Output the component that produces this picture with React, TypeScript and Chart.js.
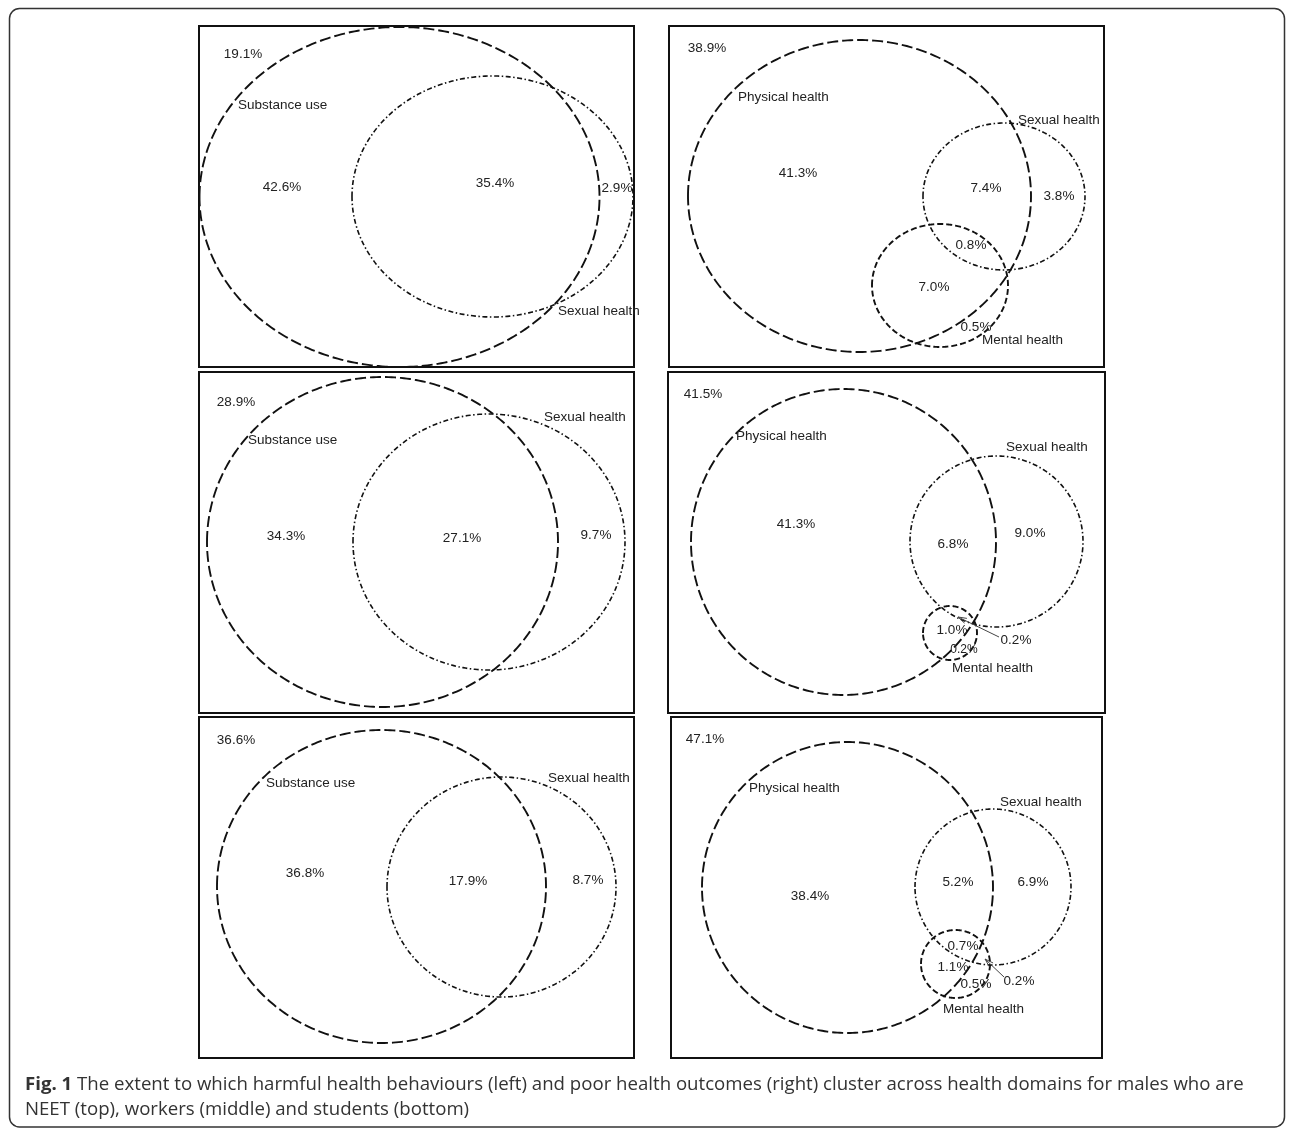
import React, { useEffect, useRef } from "react";
import { Chart, registerables } from "chart.js";

Chart.register(...registerables);

// ---- values ----
const behaviourSets = ["Substance use", "Sexual health"];
const outcomeSets = ["Physical health", "Sexual health", "Mental health"];
const groups = ["NEET", "workers", "students"];

// behaviour: [neither, substance only, both, sexual only]
const neetBehaviourPct = [19.1, 42.6, 35.4, 2.9];
const workerBehaviourPct = [28.9, 34.3, 27.1, 9.7];
const studentBehaviourPct = [36.6, 36.8, 17.9, 8.7];
// outcomes: region percentages as printed
const neetOutcomePct = [38.9, 41.3, 7.4, 3.8, 0.8, 7.0, 0.5];
const workerOutcomePct = [41.5, 41.3, 6.8, 9.0, 1.0, 0.2, 0.2];
const studentOutcomePct = [47.1, 38.4, 5.2, 6.9, 0.7, 1.1, 0.5, 0.2];

const captionBold = "Fig. 1";
const captionLine1 =
  " The extent to which harmful health behaviours (left) and poor health outcomes (right) cluster across health domains for males who are";
const captionLine2 = "NEET (top), workers (middle) and students (bottom)";

// ---- layout (positions / sizes in figure pixels) ----
type Ell = [number, number, number, number];
type Pt = [number, number];
interface PanelLayout {
  box: [number, number, number, number];
  sets: string[];
  ellipses: Ell[];
  nameAt: Pt[];
  values: number[];
  valueAt: Pt[];
  smallValue?: number[];
  arrow?: [number, number, number, number];
}

const layouts: PanelLayout[] = [
  {
    box: [199, 26, 634, 367],
    sets: behaviourSets,
    ellipses: [
      [399.5, 197, 200, 170],
      [492.5, 196.5, 140.5, 120.5],
    ],
    nameAt: [
      [238, 105],
      [558, 311],
    ],
    values: neetBehaviourPct,
    valueAt: [
      [243, 54],
      [282, 187],
      [495, 183],
      [617, 188],
    ],
  },
  {
    box: [669, 26, 1104, 367],
    sets: outcomeSets,
    ellipses: [
      [859.5, 196, 171.5, 156],
      [1004, 196.5, 81, 73.5],
      [940, 285.5, 68, 61.5],
    ],
    nameAt: [
      [738, 97],
      [1018, 120],
      [982, 340],
    ],
    values: neetOutcomePct,
    valueAt: [
      [707, 48],
      [798, 173],
      [986, 188],
      [1059, 196],
      [971, 245],
      [934, 287],
      [976, 327],
    ],
  },
  {
    box: [199, 372, 634, 713],
    sets: behaviourSets,
    ellipses: [
      [382.5, 542, 175.5, 165],
      [489, 542, 136, 128],
    ],
    nameAt: [
      [248, 440],
      [544, 417],
    ],
    values: workerBehaviourPct,
    valueAt: [
      [236, 402],
      [286, 536],
      [462, 538],
      [596, 535],
    ],
  },
  {
    box: [668, 372, 1105, 713],
    sets: outcomeSets,
    ellipses: [
      [843.5, 542, 152.5, 153],
      [996.5, 541.5, 86.5, 85.5],
      [950, 633, 27, 27],
    ],
    nameAt: [
      [736, 436],
      [1006, 447],
      [952, 668],
    ],
    values: workerOutcomePct,
    valueAt: [
      [703, 394],
      [796, 524],
      [953, 544],
      [1030, 533],
      [952, 630],
      [1016, 640],
      [964, 650],
    ],
    smallValue: [6],
    arrow: [999, 637, 958, 617],
  },
  {
    box: [199, 717, 634, 1058],
    sets: behaviourSets,
    ellipses: [
      [381.5, 886.5, 164.5, 156.5],
      [501.5, 887, 114.5, 110],
    ],
    nameAt: [
      [266, 783],
      [548, 778],
    ],
    values: studentBehaviourPct,
    valueAt: [
      [236, 740],
      [305, 873],
      [468, 881],
      [588, 880],
    ],
  },
  {
    box: [671, 717, 1102, 1058],
    sets: outcomeSets,
    ellipses: [
      [847.5, 887.5, 145.5, 145.5],
      [993, 887, 78, 78],
      [955.5, 964, 34.5, 34],
    ],
    nameAt: [
      [749, 788],
      [1000, 802],
      [943, 1009],
    ],
    values: studentOutcomePct,
    valueAt: [
      [705, 739],
      [810, 896],
      [958, 882],
      [1033, 882],
      [963, 946],
      [953, 967],
      [976, 984],
      [1019, 981],
    ],
    arrow: [1004, 977, 985, 959],
  },
];

const W = 1292;
const H = 1128;

const setStyle: Record<string, { dash: number[]; width: number }> = {
  "Substance use": { dash: [11, 4], width: 1.9 },
  "Physical health": { dash: [11, 4], width: 1.9 },
  "Sexual health": { dash: [5, 2.5, 1.5, 2.5], width: 1.6 },
  "Mental health": { dash: [6, 3], width: 1.9 },
};

function outline(e: Ell) {
  const [cx, cy, rx, ry] = e;
  const pts: { x: number; y: number }[] = [];
  const n = 360;
  for (let k = 0; k <= n; k++) {
    const a = (Math.PI * 2 * k) / n + Math.PI;
    pts.push({ x: cx + rx * Math.cos(a), y: cy + ry * Math.sin(a) });
  }
  return pts;
}

const TEXT_FONT = '13.5px "Liberation Sans", Arial, sans-serif';
const TEXT_COLOR = "#222";

const figPlugin = {
  id: "venn-figure",
  beforeDatasetsDraw(chart: any) {
    const ctx: CanvasRenderingContext2D = chart.ctx;
    const sx = chart.scales.x;
    const sy = chart.scales.y;
    const px = (v: number) => sx.getPixelForValue(v);
    const py = (v: number) => sy.getPixelForValue(v);
    ctx.save();
    // outer rounded frame
    ctx.strokeStyle = "#333";
    ctx.lineWidth = 1.5;
    ctx.beginPath();
    const l = px(9.5), t = py(8.5), r = px(1284.5), b = py(1127), rad = 10;
    ctx.moveTo(l + rad, t);
    ctx.lineTo(r - rad, t);
    ctx.arcTo(r, t, r, t + rad, rad);
    ctx.lineTo(r, b - rad);
    ctx.arcTo(r, b, r - rad, b, rad);
    ctx.lineTo(l + rad, b);
    ctx.arcTo(l, b, l, b - rad, rad);
    ctx.lineTo(l, t + rad);
    ctx.arcTo(l, t, l + rad, t, rad);
    ctx.stroke();
    // panel boxes
    ctx.strokeStyle = "#111";
    ctx.lineWidth = 2;
    layouts.forEach((p) => {
      const [x0, y0, x1, y1] = p.box;
      ctx.strokeRect(px(x0), py(y0), px(x1) - px(x0), py(y1) - py(y0));
    });
    ctx.restore();
  },
  afterDatasetsDraw(chart: any) {
    const ctx: CanvasRenderingContext2D = chart.ctx;
    const sx = chart.scales.x;
    const sy = chart.scales.y;
    const px = (v: number) => sx.getPixelForValue(v);
    const py = (v: number) => sy.getPixelForValue(v);
    ctx.save();
    ctx.fillStyle = TEXT_COLOR;
    ctx.textBaseline = "middle";
    layouts.forEach((p) => {
      ctx.font = TEXT_FONT;
      ctx.textAlign = "left";
      p.sets.forEach((name, i) => {
        ctx.fillText(name, px(p.nameAt[i][0]), py(p.nameAt[i][1]));
      });
      ctx.textAlign = "center";
      p.values.forEach((v, i) => {
        const small = p.smallValue && p.smallValue.includes(i);
        ctx.font = small ? '12px "Liberation Sans", Arial, sans-serif' : TEXT_FONT;
        ctx.fillText(v.toFixed(1) + "%", px(p.valueAt[i][0]), py(p.valueAt[i][1]));
      });
      if (p.arrow) {
        const [x0, y0, x1, y1] = p.arrow;
        const ax0 = px(x0), ay0 = py(y0), ax1 = px(x1), ay1 = py(y1);
        ctx.strokeStyle = "#444";
        ctx.lineWidth = 1;
        ctx.setLineDash([]);
        ctx.beginPath();
        ctx.moveTo(ax0, ay0);
        ctx.lineTo(ax1, ay1);
        const ang = Math.atan2(ay1 - ay0, ax1 - ax0);
        const hl = 9;
        ctx.moveTo(ax1 - hl * Math.cos(ang - 0.3), ay1 - hl * Math.sin(ang - 0.3));
        ctx.lineTo(ax1, ay1);
        ctx.lineTo(ax1 - hl * Math.cos(ang + 0.3), ay1 - hl * Math.sin(ang + 0.3));
        ctx.stroke();
      }
    });
    // caption
    ctx.fillStyle = "#333";
    ctx.textAlign = "left";
    const fam = '"Open Sans", "Noto Sans", sans-serif';
    const target = 1245 - 25;
    ctx.font = `bold 16px ${fam}`;
    const wb = ctx.measureText(captionBold).width;
    ctx.font = `16px ${fam}`;
    const wr = ctx.measureText(captionLine1).width;
    let size = (16 * target) / (wb + wr);
    size = Math.max(14, Math.min(22, size));
    const x0 = px(25);
    ctx.font = `bold ${size}px ${fam}`;
    ctx.fillText(captionBold, x0, py(1085));
    const bw = ctx.measureText(captionBold).width;
    ctx.font = `${size}px ${fam}`;
    ctx.fillText(captionLine1, x0 + bw, py(1085));
    ctx.fillText(captionLine2, x0, py(1110));
    ctx.restore();
  },
};

export default function App() {
  const ref = useRef<HTMLCanvasElement | null>(null);
  useEffect(() => {
    if (!ref.current) return;
    const datasets: any[] = [];
    layouts.forEach((p, pi) => {
      p.sets.forEach((name, i) => {
        const st = setStyle[name];
        datasets.push({
          label: `${groups[Math.floor(pi / 2)]} – ${name}`,
          data: outline(p.ellipses[i]),
          showLine: true,
          borderColor: "#111",
          borderWidth: st.width,
          borderDash: st.dash,
          pointRadius: 0,
          fill: false,
          tension: 0,
        });
      });
    });
    const chart = new Chart(ref.current, {
      type: "scatter",
      data: { datasets },
      options: {
        animation: false,
        responsive: false,
        devicePixelRatio: 1,
        layout: { padding: 0 },
        plugins: { legend: { display: false }, tooltip: { enabled: false } },
        scales: {
          x: { type: "linear", min: 0, max: W, display: false },
          y: { type: "linear", min: 0, max: H, reverse: true, display: false },
        },
      },
      plugins: [figPlugin],
    });
    return () => chart.destroy();
  }, []);
  return (
    <div style={{ position: "absolute", left: 0, top: 0, width: W, height: H, background: "#fff" }}>
      <canvas ref={ref} width={W} height={H} style={{ display: "block" }} />
    </div>
  );
}
